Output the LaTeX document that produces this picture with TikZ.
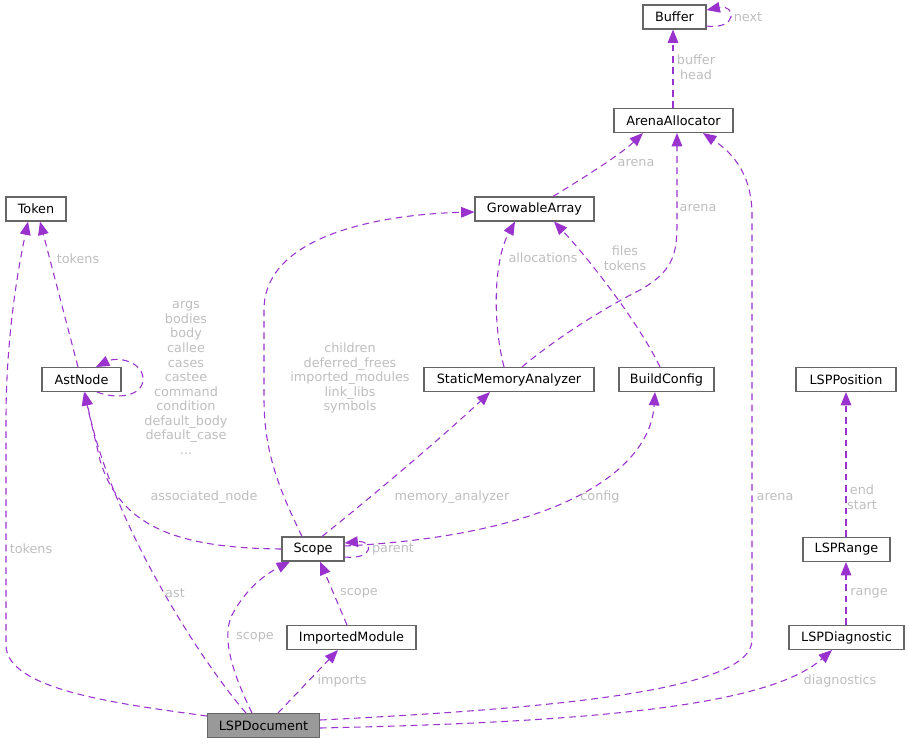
\documentclass[tikz,border=0pt]{standalone}
\usepackage{fontspec}
\setmainfont{DejaVu Sans}
\usetikzlibrary{arrows.meta}
\definecolor{edgec}{RGB}{154,50,205}
\definecolor{lblc}{RGB}{190,190,190}
\definecolor{boxc}{RGB}{102,102,102}
\definecolor{curc}{RGB}{153,153,153}
\tikzset{
  cls/.style={draw=boxc, line width=0.8pt, fill=white, minimum height=18pt, inner sep=0pt, font=\fontsize{9.6}{11}\selectfont},
  edge/.style={draw=edgec, line width=0.8pt, dash pattern=on 5pt off 3.5pt, -{Triangle[length=10pt,width=8pt]}},
  lbl/.style={text=lblc, font=\fontsize{9.6}{10.9}\selectfont, align=center, inner sep=0pt}
}
\begin{document}
\begin{tikzpicture}[x=0.75pt,y=-0.75pt]
\useasboundingbox (0,0) rectangle (909,744);
% nodes
\node[cls, minimum width=47.25pt] (buf) at (674.5,17) {Buffer};
\node[cls, minimum width=89.25pt] (aa) at (673.5,120.5) {ArenaAllocator};
\node[cls, minimum width=45pt] (tok) at (36,209) {Token};
\node[cls, minimum width=89.25pt] (ga) at (534.5,209) {GrowableArray};
\node[cls, minimum width=59.25pt] (ast) at (81.5,379.5) {AstNode};
\node[cls, minimum width=127.5pt] (sma) at (509,379.5) {StaticMemoryAnalyzer};
\node[cls, minimum width=71.25pt] (bc) at (666.5,379.5) {BuildConfig};
\node[cls, minimum width=75pt] (pos) at (846,379.5) {LSPPosition};
\node[cls, minimum width=46.5pt] (sc) at (313,549) {Scope};
\node[cls, minimum width=65.25pt] (rng) at (846.5,549.5) {LSPRange};
\node[cls, minimum width=96.75pt] (im) at (351.5,637.5) {ImportedModule};
\node[cls, minimum width=86.25pt] (diag) at (846.5,637.5) {LSPDiagnostic};
\node[cls, minimum width=84pt, fill=curc] (ld) at (263.5,725.5) {LSPDocument};

% edges
% Buffer self loop
\draw[edge] (buf.east |- 0,26) .. controls (738,30) and (736,4) .. (buf.east |- 0,10);
\draw[edge] (aa.north -| 673,0) -- (buf.south -| 673,0);
% GA -> AA
\draw[edge] (ga.north -| 553,0) .. controls (580,180) and (620,155) .. (aa.south -| 643,0);
% SMA -> AA
\draw[edge] (sma.north -| 522,0) .. controls (560,335) and (610,305) .. (640,290) .. controls (672,272) and (677,255) .. (677,225) -- (aa.south -| 677,0);
% LD -> AA
\draw[edge] (ld.east |- 0,720) .. controls (560,708) and (752,690) .. (752,640) -- (752,215) .. controls (752,170) and (728,150) .. (aa.south -| 703,0);
% AstNode -> Token
\draw[edge] (ast.north -| 78,0) -- (tok.south -| 40,0);
% LD -> Token
\draw[edge] (ld.west |- 0,716) .. controls (120,704) and (6,690) .. (6,645) -- (6,420) .. controls (6,330) and (20,260) .. (tok.south -| 28,0);
% AstNode self loop
\draw[edge] (ast.south -| 97,0) .. controls (118,400) and (143,396) .. (143,379) .. controls (143,362) and (118,356) .. (ast.north -| 96,0);
% SMA -> GA
\draw[edge] (sma.north -| 504,0) .. controls (492,320) and (494,260) .. (ga.south -| 515,0);
% BC -> GA
\draw[edge] (bc.north -| 660,0) .. controls (640,325) and (590,260) .. (ga.south -| 554,0);
% Scope -> GA
\draw[edge] (sc.north -| 302,0) .. controls (282,495) and (264,455) .. (264,400) -- (264,310) .. controls (264,232) and (390,214) .. (ga.west |- 0,212);
% Scope -> AstNode
\draw[edge] (sc.west) .. controls (180,548) and (120,528) .. (100,460) -- (ast.south -| 84,0);
% LD -> AstNode
\draw[edge] (ld.north -| 246,0) .. controls (200,660) and (110,520) .. (ast.south -| 85,0);
% LD -> Scope
\draw[edge] (ld.north -| 252,0) .. controls (236,680) and (220,640) .. (232,615) .. controls (244,592) and (262,576) .. (sc.south -| 290,0);
% IM -> Scope
\draw[edge] (im.north -| 347,0) -- (sc.south -| 320,0);
% LD -> IM
\draw[edge] (ld.north -| 278,0) -- (im.south -| 338,0);
% LD -> LSPDiagnostic
\draw[edge] (ld.east |- 0,728) .. controls (600,722) and (770,705) .. (diag.south -| 832,0);
% Diag -> Range
\draw[edge] (diag.north -| 846,0) -- (rng.south -| 846,0);
% Range -> Position
\draw[edge] (rng.north -| 846,0) -- (pos.south -| 846,0);
% Scope -> SMA
\draw[edge] (sc.north -| 322,0) .. controls (380,490) and (450,430) .. (sma.south -| 490,0);
% Scope -> BuildConfig
\draw[edge] (sc.east |- 0,546) .. controls (560,535) and (650,470) .. (bc.south -| 655,0);
% Scope self loop
\draw[edge] (sc.east |- 0,557) .. controls (374,560) and (374,540) .. (sc.east |- 0,543);

% labels
\node[lbl] (l1) at (748,17) {next};
\node[lbl] (l2) at (696,67) {buffer\\head};
\node[lbl] (l3) at (636,163) {arena};
\node[lbl] (l4) at (698,208) {arena};
\node[lbl] (l5) at (78,259) {tokens};
\node[lbl] (l6) at (186,378) {args\\bodies\\body\\callee\\cases\\castee\\command\\condition\\default\_body\\default\_case\\...};
\node[lbl] (l7) at (543,258) {allocations};
\node[lbl] (l8) at (625,258) {files\\tokens};
\node[lbl] (l9) at (350,378) {children\\deferred\_frees\\imported\_modules\\link\_libs\\symbols};
\node[lbl] (l10) at (204,497) {associated\_node};
\node[lbl] (l11) at (452,497) {memory\_analyzer};
\node[lbl] (l12) at (600,497) {config};
\node[lbl] (l13) at (775,497) {arena};
\node[lbl] (l14) at (862,497) {end\\start};
\node[lbl] (l15) at (31,549) {tokens};
\node[lbl] (l16) at (393,549) {parent};
\node[lbl] (l17) at (175,593) {ast};
\node[lbl] (l18) at (359,593) {scope};
\node[lbl] (l19) at (869,593) {range};
\node[lbl] (l20) at (255,637) {scope};
\node[lbl] (l21) at (342,681) {imports};
\node[lbl] (l22) at (840,681) {diagnostics};
\end{tikzpicture}
\end{document}
